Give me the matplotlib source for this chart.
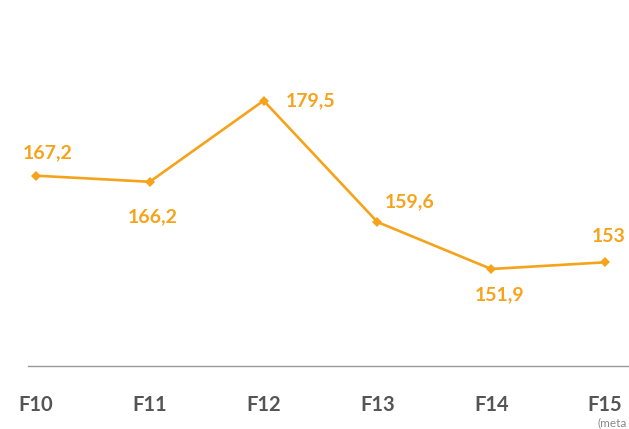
import matplotlib.pyplot as plt

years = ["F10", "F11", "F12", "F13", "F14", "F15"]
values = [167.2, 166.2, 179.5, 159.6, 151.9, 153]
value_labels = ["167,2", "166,2", "179,5", "159,6", "151,9", "153"]
# label offsets in pixels (dx, dy)
offsets = [(12, 23), (3, -35), (47, 0), (32, 20), (8, -26), (4, 26)]

orange = "#F5A31A"

fig = plt.figure(figsize=(6.29, 4.29), dpi=100)
ax = fig.add_axes([28 / 629, 63 / 429, 1 - 28 / 629, 366 / 429])

x = list(range(len(years)))
ax.plot(x, values, color=orange, linewidth=1.9, marker="D", markersize=5.5,
        markeredgewidth=0)

for xi, v, lab, (dx, dy) in zip(x, values, value_labels, offsets):
    ax.annotate(lab, (xi, v), xytext=(dx, dy), textcoords="offset pixels",
                ha="center", va="center", color=orange, fontsize=14,
                fontweight="bold", family="Lato")

ax.set_xlim(-0.07, 5.21)
ax.set_ylim(136, 196)
ax.set_yticks([])
ax.set_xticks(x)
ax.set_xticklabels(years, fontsize=14.5, fontweight="bold", color="#555555",
                   family="Lato")
ax.tick_params(axis="x", length=0, pad=21)

for side in ["top", "right", "left"]:
    ax.spines[side].set_visible(False)
ax.spines["bottom"].set_color("#999999")
ax.spines["bottom"].set_linewidth(1)

fig.text(598 / 629, (429 - 423) / 429, "(meta", fontsize=8.5, color="#888888",
         ha="left", va="center", family="Lato")

plt.savefig("out.png", dpi=100)
